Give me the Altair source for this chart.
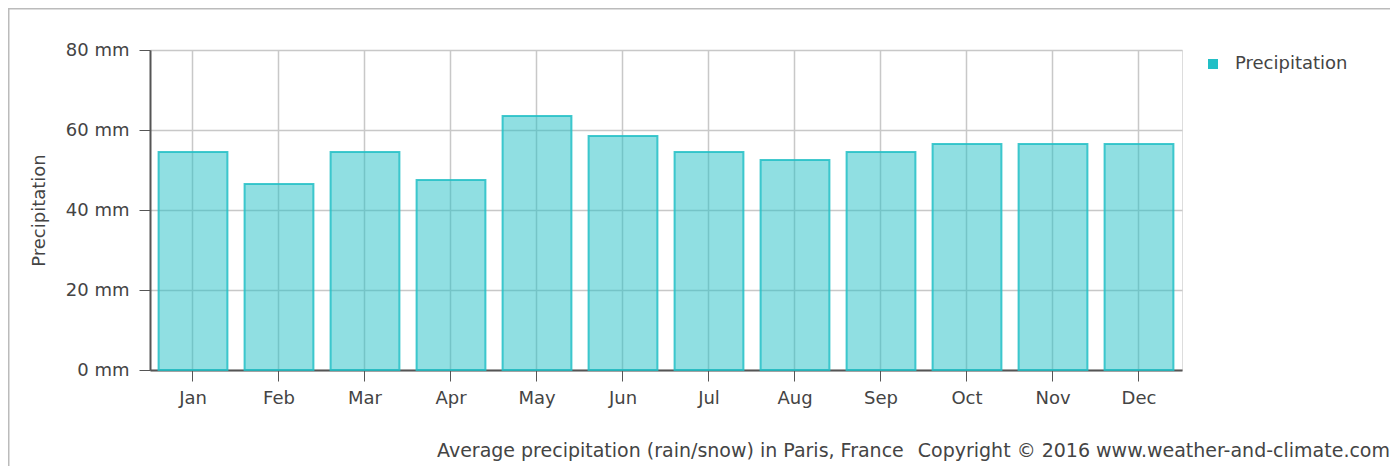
import altair as alt
import pandas as pd

months = ["Jan", "Feb", "Mar", "Apr", "May", "Jun", "Jul", "Aug", "Sep", "Oct", "Nov", "Dec"]
precip = [54.5, 46.5, 54.5, 47.5, 63.5, 58.5, 54.5, 52.5, 54.5, 56.5, 56.5, 56.5]
y_ticks = [0, 20, 40, 60, 80]
series_name = "Precipitation"
footer_left = "Average precipitation (rain/snow) in Paris, France"
footer_right = "Copyright \u00a9 2016 www.weather-and-climate.com"

df = pd.DataFrame({"month": months, "value": precip, "series": [series_name] * len(months)})

FONT = "DejaVu Sans"
TXT = "#444444"
CYAN = "#22bfc6"

bars = alt.Chart(df).mark_bar(
    fill=CYAN, fillOpacity=0.5, stroke=CYAN, strokeWidth=2, strokeOpacity=0.85
).encode(
    x=alt.X("month:N", sort=months, title=None,
            scale=alt.Scale(paddingInner=0.2, paddingOuter=0.1),
            axis=alt.Axis(labelAngle=0, labelFont=FONT, labelFontSize=18, labelColor=TXT,
                          tickSize=11, tickColor="#555555", domainColor="#555555",
                          domainWidth=2, labelPadding=8, grid=True, gridColor="#c8c8c8",
                          gridWidth=1.5)),
    y=alt.Y("value:Q", title="Precipitation",
            scale=alt.Scale(domain=[0, 80], nice=False),
            axis=alt.Axis(values=y_ticks, labelExpr="datum.value + ' mm'",
                          labelFont=FONT, labelFontSize=18, labelColor=TXT,
                          tickSize=11, tickColor="#555555", domainColor="#555555",
                          domainWidth=2, labelPadding=10,
                          titleFont=FONT, titleFontSize=18, titleColor=TXT,
                          titleFontWeight="normal", titlePadding=17,
                          grid=True, gridColor="#c8c8c8", gridWidth=1.5)),
    color=alt.Color("series:N", scale=alt.Scale(range=[CYAN]),
                    legend=alt.Legend(title=None, orient="none", legendX=1054, legendY=5,
                                      symbolType="square", symbolSize=100, symbolStrokeWidth=0,
                                      symbolOpacity=1, labelFont=FONT, labelFontSize=18,
                                      labelColor=TXT, labelOffset=13)),
)

footer_l = alt.Chart(alt.Data(values=[{"t": footer_left}])).mark_text(
    align="left", baseline="alphabetic", font=FONT, fontSize=19, color=TXT
).encode(text="t:N", x=alt.value(287), y=alt.value(407))

footer_r = alt.Chart(alt.Data(values=[{"t": footer_right}])).mark_text(
    align="right", baseline="alphabetic", font=FONT, fontSize=19, color=TXT
).encode(text="t:N", x=alt.value(1240), y=alt.value(407))

border = alt.Chart(alt.Data(values=[{"a": 1}])).mark_rect(
    fill=None, stroke="#bbbbbb", strokeWidth=3
).encode(x=alt.value(-142), y=alt.value(-42), x2=alt.value(1400), y2=alt.value(600))

chart = alt.layer(bars, footer_l, footer_r, border).properties(
    width=1032, height=320, autosize="none",
    padding={"left": 142, "top": 42, "right": 208, "bottom": 96},
).configure_view(fill="#fdfdfd", stroke="#d0d0d0", strokeWidth=2).configure(background="white")

chart.save("out.html", embed_options={"renderer": "svg", "actions": False})
